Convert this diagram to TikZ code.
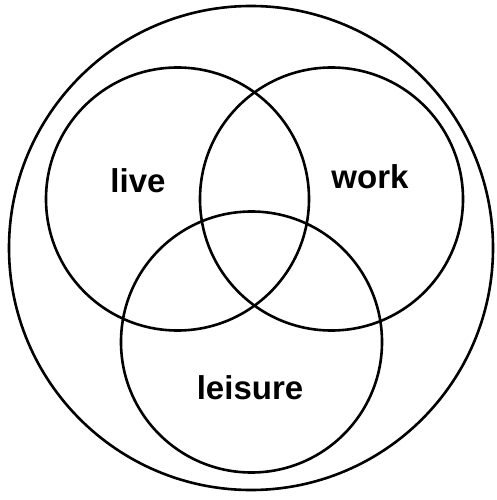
\documentclass[tikz,border=0pt]{standalone}
\usepackage{fontspec}
\setmainfont{Liberation Sans}
\begin{document}
\begin{tikzpicture}[x=1pt,y=-1pt,
  ring/.style={draw=black,line width=2.6pt},
  lbl/.style={font=\fontsize{33}{36}\selectfont\bfseries,text=black}]
\useasboundingbox (0,0) rectangle (497,500);
\fill[white] (0,0) rectangle (497,500);
\draw[ring] (251,248) circle (242);
\draw[ring] (177.5,199) circle (131.5);
\draw[ring] (331.5,199) circle (131.5);
\draw[ring] (251.5,342) circle (130.5);
\node[lbl] (live) at (138,181) {live};
\node[lbl] (work) at (370,177) {work};
\node[lbl] (leisure) at (250,388) {leisure};
\end{tikzpicture}
\end{document}
